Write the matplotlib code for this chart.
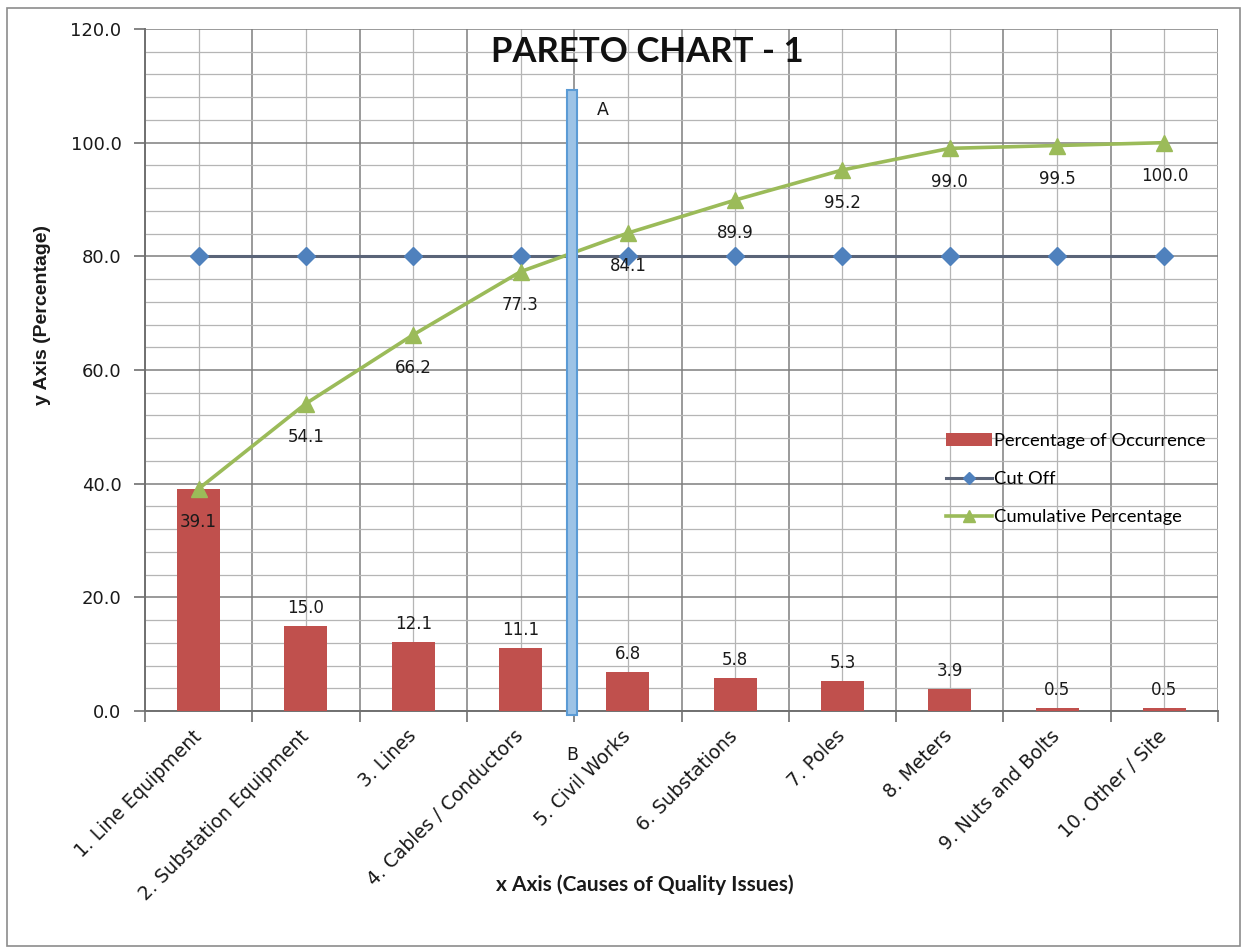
import numpy as np
import matplotlib.pyplot as plt
from matplotlib.patches import Rectangle
from matplotlib.lines import Line2D


#categories and values
causes = ['1. Line Equipment', '2. Substation Equipment', '3. Lines',
          '4. Cables / Conductors', '5. Civil Works', '6. Substations',
          '7. Poles', '8. Meters', '9. Nuts and Bolts', '10. Other / Site']
occurrence = [39.1, 15.0, 12.1, 11.1, 6.8, 5.8, 5.3, 3.9, 0.5, 0.5]
cumulative = [39.1, 54.1, 66.2, 77.3, 84.1, 89.9, 95.2, 99.0, 99.5, 100.0]
cut_off = [80.0] * 10

#marker between A and B (cut off crossing)
ab_x = 3.48
ab_bottom = -0.7
ab_top = 109.3

W, H = 1243, 949
fig = plt.figure(figsize=(W / 100, H / 100), dpi=100)

#outer frame of the chart
fig.patches.append(Rectangle((7 / W, 3 / H), 1233 / W, 938 / H, transform=fig.transFigure,
                             fill=False, edgecolor='#8c8c8c', lw=1.2))

ax = fig.add_axes([145 / W, 1 - 711 / H, (1218 - 145) / W, (711 - 29) / H])

x = np.arange(len(causes))

ax.bar(x, occurrence, width=0.4, color='#C0504D', zorder=3, label='Percentage of Occurrence')
ax.plot(x, cut_off, color='#5a6478', lw=2.2, marker='D', markersize=9,
        markerfacecolor='#4F81BD', markeredgecolor='#4F81BD', zorder=4, label='Cut Off')
ax.plot(x, cumulative, color='#9BBB59', lw=2.6, marker='^', markersize=11,
        markerfacecolor='#9BBB59', markeredgecolor='#9BBB59', zorder=4,
        label='Cumulative Percentage')

#value labels (first bar's value is shown by the cumulative label)
for i in range(1, len(x)):
    ax.annotate('%.1f' % occurrence[i], (x[i], occurrence[i]), xytext=(0, 13),
                textcoords='offset points', ha='center', va='center', fontsize=12,
                color='#1a1a1a', zorder=6)
for i in range(len(x)):
    ax.annotate('%.1f' % cumulative[i], (x[i], cumulative[i]), xytext=(0, -24),
                textcoords='offset points', ha='center', va='center', fontsize=12,
                color='#1a1a1a', zorder=6)

#A-B bar
ax.add_patch(Rectangle((ab_x - 0.05, ab_bottom), 0.1, ab_top - ab_bottom, facecolor='#9DC3E6',
                       edgecolor='#5B9BD5', lw=1.5, zorder=5, clip_on=False))
ax.text(3.77, 105.8, 'A', fontsize=12.5, ha='center', va='center', color='#1a1a1a')
ax.text(ab_x, -7.8, 'B', fontsize=12.5, ha='center', va='center', color='#1a1a1a', clip_on=False)

ax.set_xlim(-0.5, 9.5)
ax.set_ylim(0, 120)

#y axis: labelled every 20, grid every 4
ax.set_yticks(np.arange(0, 121, 20))
ax.set_yticks(np.arange(0, 121, 4), minor=True)
ax.set_yticklabels(['%.1f' % v for v in np.arange(0, 121, 20)], fontsize=13, color='#1a1a1a')

#x axis: ticks on category borders, names on category centres
ax.set_xticks(np.arange(-0.5, 10, 1))
ax.set_xticklabels([])
ax.set_xticks(x, minor=True)
ax.set_xticklabels(causes, minor=True, rotation=45, ha='right', va='center',
                   rotation_mode='anchor', fontsize=13.5, color='#1a1a1a')

ax.tick_params(axis='both', which='major', length=8, width=1.2, color='#707070', direction='out')
ax.tick_params(axis='y', which='major', pad=9)
ax.tick_params(axis='both', which='minor', length=0)
ax.tick_params(axis='x', which='minor', pad=16)

ax.grid(True, which='major', color='#7f7f7f', lw=1.1, zorder=0)
ax.grid(True, which='minor', color='#b5b5b5', lw=0.9, zorder=0)
ax.set_axisbelow(True)

for s in ['top', 'right']:
    ax.spines[s].set_visible(False)
for s in ['left', 'bottom']:
    ax.spines[s].set_color('#707070')
    ax.spines[s].set_linewidth(1.4)

fig.text(647 / W, 1 - 52 / H, 'PARETO CHART - 1', fontsize=25, fontweight='bold',
         family='Lato', ha='center', va='center', color='#111111')
fig.text(645 / W, 1 - 885 / H, 'x Axis (Causes of Quality Issues)', fontsize=15,
         fontweight='bold', family='Lato', ha='center', va='center', color='#1a1a1a')
fig.text(43 / W, 1 - 315 / H, 'y Axis (Percentage)', fontsize=14, fontweight='bold',
         family='Liberation Sans', rotation=90, ha='center', va='center', color='#1a1a1a')

#legend
handles = [Rectangle((0, 0), 1, 1, facecolor='#C0504D'),
           Line2D([], [], color='#5a6478', lw=2.2, marker='D', markersize=6,
                  markerfacecolor='#4F81BD', markeredgecolor='#4F81BD'),
           Line2D([], [], color='#9BBB59', lw=2.6, marker='^', markersize=8,
                  markerfacecolor='#9BBB59', markeredgecolor='#9BBB59')]
labels = ['Percentage of Occurrence', 'Cut Off', 'Cumulative Percentage']
leg = ax.legend(handles, labels, loc='upper left', bbox_to_anchor=(937 / W, 1 - 424 / H),
                bbox_transform=fig.transFigure, frameon=False, prop={'family': 'Lato', 'size': 13.2},
                handlelength=2.5, handletextpad=0.1, labelspacing=1.2, borderpad=0)

fig.savefig('out.png', dpi=100)
